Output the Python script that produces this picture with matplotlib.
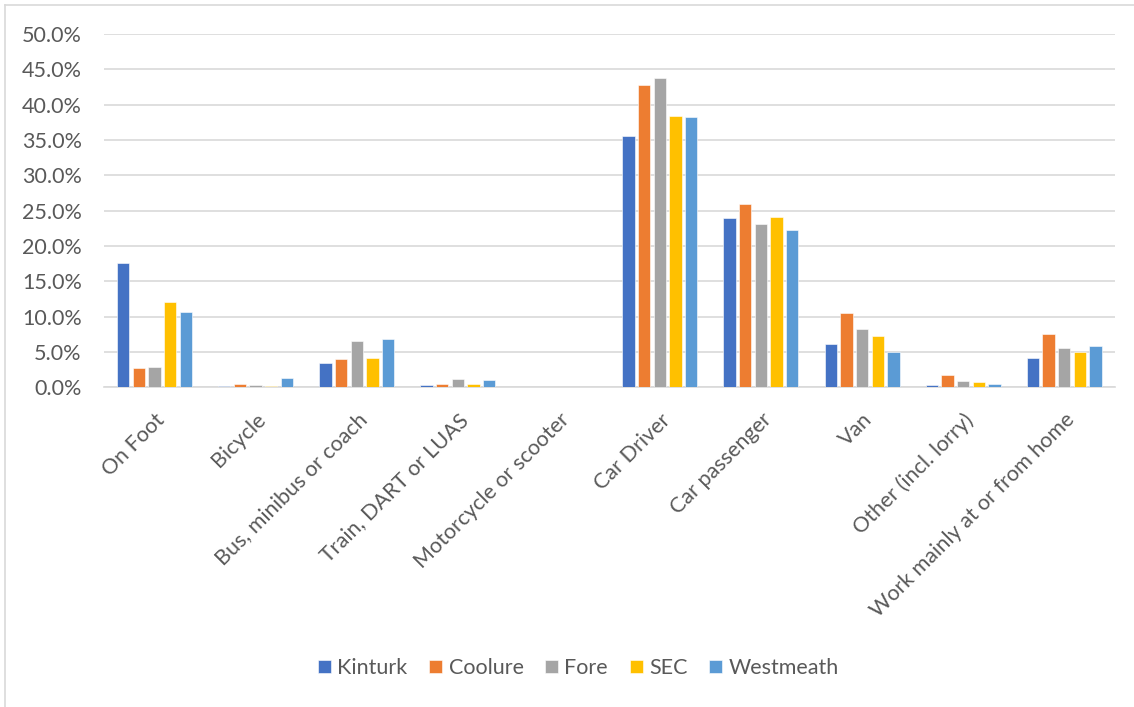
import matplotlib
matplotlib.use("Agg")
import matplotlib.pyplot as plt
import numpy as np
from matplotlib.ticker import FuncFormatter, MultipleLocator

categories = ["On Foot", "Bicycle", "Bus, minibus or coach", "Train, DART or LUAS",
              "Motorcycle or scooter", "Car Driver", "Car passenger", "Van",
              "Other (incl. lorry)", "Work mainly at or from home"]
series_names = ["Kinturk", "Coolure", "Fore", "SEC", "Westmeath"]
kinturk = [17.6, 0.2, 3.5, 0.3, 0.0, 35.6, 24.0, 6.2, 0.4, 4.2]
coolure = [2.7, 0.45, 4.0, 0.45, 0.0, 42.8, 26.0, 10.5, 1.7, 7.5]
fore = [2.9, 0.3, 6.6, 1.25, 0.05, 43.8, 23.1, 8.2, 0.95, 5.6]
sec = [12.1, 0.25, 4.2, 0.5, 0.0, 38.4, 24.1, 7.3, 0.7, 5.0]
westmeath = [10.7, 1.35, 6.8, 1.0, 0.0, 38.2, 22.3, 5.0, 0.45, 5.9]
colors = ["#4472C4", "#ED7D31", "#A5A5A5", "#FFC000", "#5B9BD5"]

plt.rcParams['font.family'] = ['Lato', 'DejaVu Sans']
txt = "#595959"
fs = 15.5

fig = plt.figure(figsize=(11.34, 7.07), dpi=100)
ax = fig.add_axes([0.0917, 0.452, 0.8913, 0.500])

x = np.arange(len(categories))
pitch = 0.155
width = 0.122
all_series = [kinturk, coolure, fore, sec, westmeath]
for i, (name, vals, c) in enumerate(zip(series_names, all_series, colors)):
    ax.bar(x + (i - 2) * pitch, vals, width=width, color=c, label=name,
           edgecolor='white', linewidth=0.4, zorder=3)

ax.set_xlim(-0.5, len(categories) - 0.5)
ax.set_ylim(0, 50)
ax.yaxis.set_major_locator(MultipleLocator(5))
ax.yaxis.set_major_formatter(FuncFormatter(lambda v, p: f"{v:.1f}%"))
ax.grid(axis='y', color='#D9D9D9', linewidth=1.2, zorder=0)
for s in ['top', 'right', 'left']:
    ax.spines[s].set_visible(False)
ax.spines['bottom'].set_color('#D9D9D9')
ax.spines['bottom'].set_linewidth(1.2)
ax.tick_params(axis='both', length=0, colors=txt, labelsize=fs)
ax.tick_params(axis='y', pad=16)
ax.set_xticks(x)
ax.set_xticklabels(categories, rotation=45, ha='right', rotation_mode='anchor')
ax.tick_params(axis='x', pad=16)

leg = fig.legend(loc='center', bbox_to_anchor=(0.51, 0.055), ncol=5, frameon=False,
                 fontsize=fs, handlelength=0.6, handleheight=0.6, handletextpad=0.3,
                 columnspacing=1.0)
for t in leg.get_texts():
    t.set_color(txt)

# chart border (left and top visible)
fig.add_artist(plt.Line2D([0.0046, 0.0046], [0, 0.993], transform=fig.transFigure,
                          color='#D9D9D9', linewidth=1.2))
fig.add_artist(plt.Line2D([0.0046, 1], [0.993, 0.993], transform=fig.transFigure,
                          color='#D9D9D9', linewidth=1.2))

fig.savefig("out.png", dpi=100)
